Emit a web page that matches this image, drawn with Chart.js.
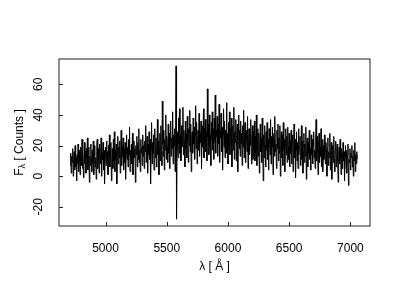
<!DOCTYPE html>
<html>
<head>
<meta charset="utf-8">
<script src="https://cdn.jsdelivr.net/npm/chart.js@4"></script>
<style>
html, body { margin: 0; padding: 0; background: #fff; }
</style>
</head>
<body>
<canvas id="spectrumChart" width="400" height="300"></canvas>
<script>
// wavelength grid of the spectrum (Angstrom)
const lambdaStart = 4712;
const lambdaStep = 4;

// flux per pixel
const flux = [
    7, 15, 2, 13, 9, 18, 0, 11, 16, 4, 20, 6, 12, -3, 14, 8, 21, 3, 17, 10, 1, 19, 7, 13, 24,
    5, 15, -1, 11, 22, 8, 16, 2, 18, 12, 25, 4, 10, 19, -4, 13, 7, 21, 11, 3, 17, 9, 23, 1, 14,
    20, 6, 12, -2, 16, 24, 5, 18, 10, 2, 21, 13, 8, 25, 0, 15, 11, 22, 4, 17, -5, 12, 19, 7, 23,
    9, 16, 1, 20, 13, 27, 6, 15, 22, -3, 12, 18, 5, 24, 10, 29, 3, 17, 11, 21, -5, 14, 26, 8, 19,
    12, 23, 2, 16, 30, 7, 20, 13, 25, 4, 18, 9, 22, -2, 15, 27, 11, 19, 6, 24, 14, 32, 3, 17, 10,
    21, 8, 28, 1, 16, 23, 12, 18, -4, 20, 14, 26, 6, 22, 11, 31, 9, 17, 3, 24, 15, 19, 7, 27, 13,
    20, 5, 23, 16, 33, 9, 18, 26, 2, 21, 14, 29, 11, 24, -5, 17, 35, 8, 22, 15, 27, 4, 19, 31, 12,
    25, 6, 20, 37, 14, 23, 1, 18, 28, 10, 33, 16, 7, 49, 21, 13, 30, 4, 24, 17, 40, 11, 26, 19, 9,
    34, 15, 28, 5, 22, 36, 13, 25, 18, 42, 8, 27, 20, 31, 3, 23, 72, -28, 17, 29, 12, 38, 21, 44, 15,
    27, 10, 33, 19, 26, 45, 14, 30, 22, 6, 36, 18, 28, 12, 39, 24, 9, 31, 20, 43, 16, 34, 3, 25, 29,
    15, 38, 21, 32, 11, 27, 46, 18, 35, 8, 24, 30, 17, 41, 13, 28, 22, 36, 5, 26, 33, 19, 44, 12, 31,
    23, 37, 16, 29, 10, 57, 25, 34, 14, 40, 20, 27, 7, 35, 24, 42, 17, 31, 11, 38, 22, 53, 15, 30, 26,
    39, 13, 34, 21, 47, 9, 29, 25, 41, 16, 32, 4, 27, 44, 19, 36, 12, 30, 23, 48, 15, 28, 8, 35, 20,
    42, 14, 31, 26, 38, 6, 24, 33, 17, 45, 11, 29, 22, 37, 10, 27, 34, 3, 25, 40, 18, 30, 13, 36, 21,
    28, 7, 33, 19, 43, 12, 26, 35, 9, 24, 30, 16, 39, 5, 22, 31, 14, 27, 20, 37, 8, 25, 33, 11, 29,
    18, 36, 10, 26, 15, 40, 7, 23, 31, 13, 28, 2, 21, 34, 16, 25, 9, 38, 19, -3, 27, 12, 33, 20, 6,
    29, 17, 35, 11, 24, 4, 31, 22, 14, 37, 8, 26, 19, 32, 1, 23, 28, 13, 39, 16, 21, 5, 30, 18, 34,
    10, 25, 15, 33, 0, 22, 29, 12, 27, 7, 35, 17, 24, 3, 20, 31, 14, 26, 9, 32, 19, 11, 28, 6, 23,
    15, 30, 8, 21, 27, 3, 19, 34, 12, 24, -1, 17, 29, 10, 22, 5, 31, 14, 20, 26, 7, 18, 33, 11, 23,
    2, 16, 28, 9, 21, 13, 32, -2, 19, 25, 6, 22, 15, 30, 11, 18, 4, 27, 14, 24, 8, 20, 29, 12, 17,
    5, 23, 37, 10, 26, 16, 1, 21, 28, 9, 19, 13, 31, 6, 18, 24, 3, 20, 11, 27, 14, 8, 22, 17, 0,
    19, 25, 7, 16, 12, 28, 4, 18, 22, -2, 14, 20, 9, 26, 11, 3, 17, 23, 6, 15, 21, 10, -4, 13, 19,
    8, 24, 12, 1, 18, 15, 5, 22, 10, 16, -3, 13, 20, 7, 17, 2, 14, 21, -6, 11, 9, 18, 4, 15, 12,
    20, 6, 13, 0, 17, 10, 22, 3, 14, 8, 16, 11
];

const xTicks = [5000, 5500, 6000, 6500, 7000];
const yTicks = [-20, 0, 20, 40, 60];

const points = flux.map((f, i) => ({ x: lambdaStart + i * lambdaStep, y: f }));

const font = '12px "Liberation Sans", Arial, Helvetica, sans-serif';
const subFont = '9px "Liberation Sans", Arial, Helvetica, sans-serif';

// R style frame: box, inward ticks, rotated y labels
const rFrame = {
    id: 'rFrame',
    afterDraw(chart) {
        const ctx = chart.ctx;
        const a = chart.chartArea;
        const xs = chart.scales.x;
        const ys = chart.scales.y;
        ctx.save();
        ctx.strokeStyle = '#222';
        ctx.lineWidth = 1;
        ctx.strokeRect(a.left, a.top, a.right - a.left, a.bottom - a.top);

        ctx.fillStyle = '#000';
        ctx.font = font;
        ctx.beginPath();
        xTicks.forEach(v => {
            const px = Math.round(xs.getPixelForValue(v)) + 0.5;
            ctx.moveTo(px, a.bottom);
            ctx.lineTo(px, a.bottom - 4);
        });
        yTicks.forEach(v => {
            const py = Math.round(ys.getPixelForValue(v)) + 0.5;
            ctx.moveTo(a.left, py);
            ctx.lineTo(a.left + 4, py);
        });
        ctx.stroke();

        ctx.textAlign = 'center';
        ctx.textBaseline = 'middle';
        xTicks.forEach(v => {
            ctx.fillText(String(v), xs.getPixelForValue(v), a.bottom + 23);
        });
        ctx.fillText('λ [ Å ]', (a.left + a.right) / 2, a.bottom + 41);

        yTicks.forEach(v => {
            ctx.save();
            ctx.translate(39, ys.getPixelForValue(v));
            ctx.rotate(-Math.PI / 2);
            ctx.fillText(String(v), 0, 0);
            ctx.restore();
        });

        // y title with subscript lambda
        const main1 = 'F';
        const sub = 'λ';
        const main2 = ' [ Counts ]';
        ctx.font = font;
        const w1 = ctx.measureText(main1).width;
        const w3 = ctx.measureText(main2).width;
        ctx.font = subFont;
        const w2 = ctx.measureText(sub).width;
        const total = w1 + w2 + w3;
        ctx.translate(20, (a.top + a.bottom) / 2);
        ctx.rotate(-Math.PI / 2);
        ctx.textAlign = 'left';
        ctx.font = font;
        ctx.fillText(main1, -total / 2, 0);
        ctx.font = subFont;
        ctx.fillText(sub, -total / 2 + w1, 3);
        ctx.font = font;
        ctx.fillText(main2, -total / 2 + w1 + w2, 0);
        ctx.restore();
    }
};

const spectrumChart = new Chart(document.getElementById('spectrumChart'), {
    type: 'line',
    data: {
        datasets: [{
            data: points,
            borderColor: '#000',
            borderWidth: 1,
            pointRadius: 0,
            tension: 0,
            fill: false
        }]
    },
    options: {
        responsive: false,
        animation: false,
        devicePixelRatio: 1,
        layout: { padding: { left: 59, top: 59, right: 30, bottom: 74 } },
        plugins: { legend: { display: false }, tooltip: { enabled: false } },
        scales: {
            x: { type: 'linear', min: 4620, max: 7160, display: false },
            y: { type: 'linear', min: -32.5, max: 76.5, display: false }
        }
    },
    plugins: [rFrame]
});
</script>
</body>
</html>
